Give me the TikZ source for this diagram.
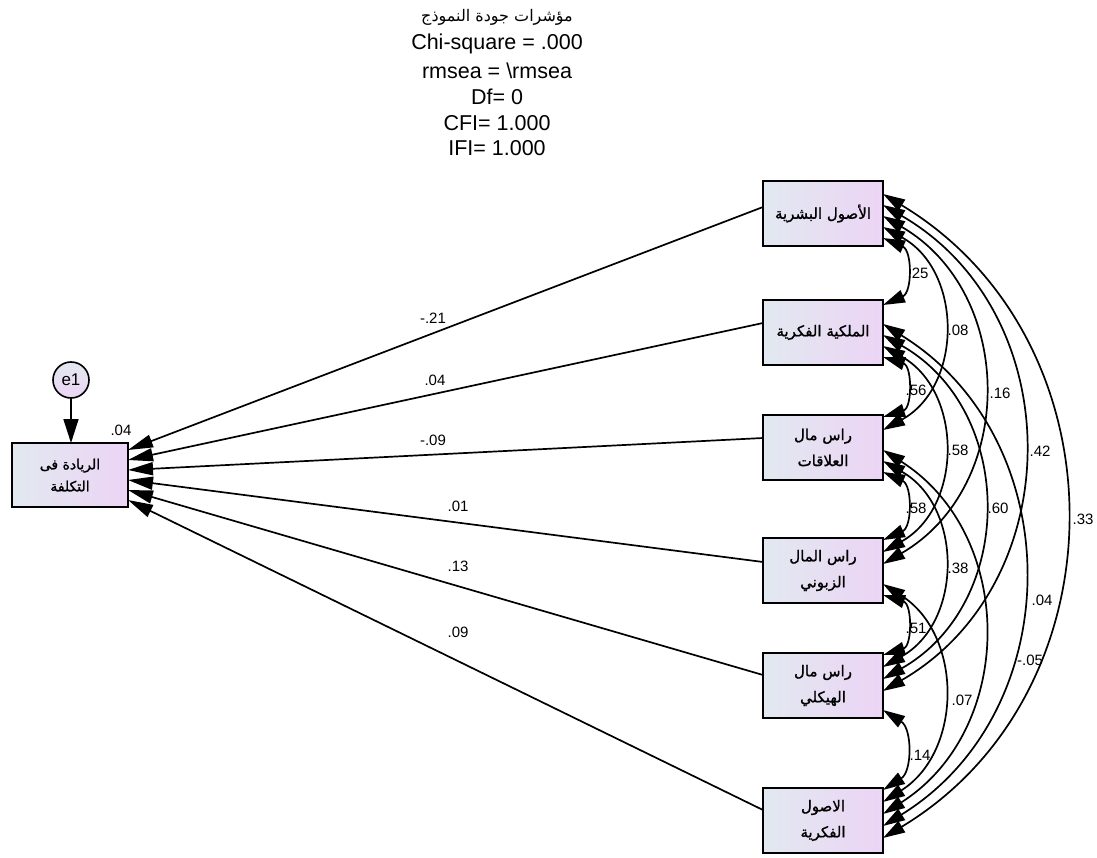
\documentclass[tikz,border=0pt]{standalone}
\usepackage{fontspec}
\setmainfont{Liberation Sans}
\newfontfamily\arabicfont[Script=Arabic]{DejaVu Sans}
\newfontfamily\arabicbox[Script=Arabic,FakeBold=1.2]{DejaVu Sans}
\TeXXeTstate=1
\usetikzlibrary{arrows.meta}
\definecolor{boxL}{RGB}{226,233,240}
\definecolor{boxR}{RGB}{236,212,245}
\tikzset{
  obs/.style={draw, line width=1.8pt, left color=boxL, right color=boxR,
    minimum width=120pt, minimum height=65pt, inner sep=0pt, outer sep=0pt,
    align=center, font=\arabicbox\fontsize{15}{26}\selectfont},
  reg/.style={line width=1.7pt, -{Triangle[length=25pt,width=13pt]}},
  cov/.style={line width=1.7pt, {Triangle[length=22pt,width=13pt]}-{Triangle[length=22pt,width=13pt]}},
  lbl/.style={font=\fontsize{15}{18}\selectfont, inner sep=0pt},
  ttl/.style={font=\fontsize{21.5}{26}\selectfont, inner sep=0pt},
}
\begin{document}
\begin{tikzpicture}[x=1pt,y=-1pt]
\useasboundingbox (0,0) rectangle (1097,858);
% title
\node[ttl, font=\arabicfont\fontsize{16}{20}\selectfont] (t0) at (497,17) {\beginR مؤشرات جودة النموذج\endR};
\node[ttl] (t1) at (497,44) {Chi-square = .000};
\node[ttl] (t2) at (497,71) {rmsea = \textbackslash rmsea};
\node[ttl] (t3) at (497,97) {Df= 0};
\node[ttl] (t4) at (497,123) {CFI= 1.000};
\node[ttl] (t5) at (497,148) {IFI= 1.000};

% observed variables
\node[obs] (b1) at (823,213.5) {\beginR الأصول البشرية\endR};
\node[obs] (b2) at (823,332.5) {\beginR الملكية الفكرية\endR};
\node[obs] (b3) at (823,447.5) {\beginR راس مال\endR\\\beginR العلاقات\endR};
\node[obs] (b4) at (823,570.5) {\beginR راس المال\endR\\\beginR الزبوني\endR};
\node[obs] (b5) at (823,685.5) {\beginR راس مال\endR\\\beginR الهيكلي\endR};
\node[obs] (b6) at (823,820.5) {\beginR الاصول\endR\\\beginR الفكرية\endR};
\node[obs, minimum width=116pt, minimum height=64pt, font=\arabicbox\fontsize{14}{22}\selectfont] (L) at (70,475) {\beginR الريادة فى\endR\\\beginR التكلفة\endR};

% error
\node[circle, draw, line width=1.6pt, top color=boxL, bottom color=boxR, minimum size=36pt, inner sep=0pt, outer sep=0pt, font=\fontsize{17}{20}\selectfont] (e1) at (71,380) {e1};
\draw[line width=1.7pt, -{Triangle[length=24pt,width=15pt]}] (e1) -- (e1 |- L.north);
\node[lbl] (r2) at (121,430) {.04};

% regressions
\draw[reg] ([yshift=-26pt]b1.north west) -- ([yshift=-7pt]L.north east);
\draw[reg] ([yshift=-23pt]b2.north west) -- ([yshift=-17pt]L.north east);
\draw[reg] ([yshift=-23pt]b3.north west) -- ([yshift=-27pt]L.north east);
\draw[reg] ([yshift=-24pt]b4.north west) -- ([yshift=-37pt]L.north east);
\draw[reg] ([yshift=-22pt]b5.north west) -- ([yshift=-47pt]L.north east);
\draw[reg] ([yshift=-22pt]b6.north west) -- ([yshift=-57pt]L.north east);
\node[lbl] (p1) at (433,318) {-.21};
\node[lbl] (p2) at (435,380) {.04};
\node[lbl] (p3) at (433,440) {-.09};
\node[lbl] (p4) at (458,506) {.01};
\node[lbl] (p5) at (458,566) {.13};
\node[lbl] (p6) at (458,632) {.09};

% covariances
\draw[cov] ([yshift=-57pt]b1.north east) .. controls +(29.33,12.70) and +(29.33,-12.70) .. ([yshift=-5pt]b2.north east);
\draw[cov] ([yshift=-46pt]b1.north east) .. controls +(80,44.02) and +(80,-44.02) .. ([yshift=-15pt]b3.north east);
\draw[cov] ([yshift=-35pt]b1.north east) .. controls +(133.33,77.69) and +(133.33,-77.69) .. ([yshift=-26pt]b4.north east);
\draw[cov] ([yshift=-24pt]b1.north east) .. controls +(186.67,108.23) and +(186.67,-108.23) .. ([yshift=-38pt]b5.north east);
\draw[cov] ([yshift=-13pt]b1.north east) .. controls +(242.67,146.09) and +(242.67,-146.09) .. ([yshift=-50pt]b6.north east);
\draw[cov] ([yshift=-57pt]b2.north east) .. controls +(29.33,9.24) and +(29.33,-9.24) .. ([yshift=-2pt]b3.north east);
\draw[cov] ([yshift=-46pt]b2.north east) .. controls +(80,45.37) and +(80,-45.37) .. ([yshift=-14pt]b4.north east);
\draw[cov] ([yshift=-35pt]b2.north east) .. controls +(133.33,75.91) and +(133.33,-75.91) .. ([yshift=-26pt]b5.north east);
\draw[cov] ([yshift=-24pt]b2.north east) .. controls +(186.67,115.27) and +(186.67,-115.27) .. ([yshift=-38pt]b6.north east);
\draw[cov] ([yshift=-57pt]b3.north east) .. controls +(29.33,13.18) and +(29.33,-13.18) .. ([yshift=-2pt]b4.north east);
\draw[cov] ([yshift=-46pt]b3.north east) .. controls +(80,45.37) and +(80,-45.37) .. ([yshift=-14pt]b5.north east);
\draw[cov] ([yshift=-35pt]b3.north east) .. controls +(133.33,84.70) and +(133.33,-84.70) .. ([yshift=-26pt]b6.north east);
\draw[cov] ([yshift=-57pt]b4.north east) .. controls +(29.33,9.24) and +(29.33,-9.24) .. ([yshift=-2pt]b5.north east);
\draw[cov] ([yshift=-46pt]b4.north east) .. controls +(80,50.65) and +(80,-50.65) .. ([yshift=-14pt]b6.north east);
\draw[cov] ([yshift=-57pt]b5.north east) .. controls +(29.33,18.6) and +(29.33,-18.6) .. ([yshift=-2pt]b6.north east);

\node[lbl] (c12) at (918,273) {.25};
\node[lbl] (c13) at (958,330) {.08};
\node[lbl] (c14) at (1000,393) {.16};
\node[lbl] (c15) at (1040,451) {.42};
\node[lbl] (c16) at (1083,519) {.33};
\node[lbl] (c23) at (916,390) {.56};
\node[lbl] (c24) at (958,450) {.58};
\node[lbl] (c25) at (998,508) {.60};
\node[lbl] (c26) at (1042,600) {.04};
\node[lbl] (c34) at (916,508) {.58};
\node[lbl] (c35) at (958,568) {.38};
\node[lbl] (c36) at (1030,660) {-.05};
\node[lbl] (c45) at (916,628) {.51};
\node[lbl] (c46) at (962,700) {.07};
\node[lbl] (c56) at (920,755) {.14};
\end{tikzpicture}
\end{document}
